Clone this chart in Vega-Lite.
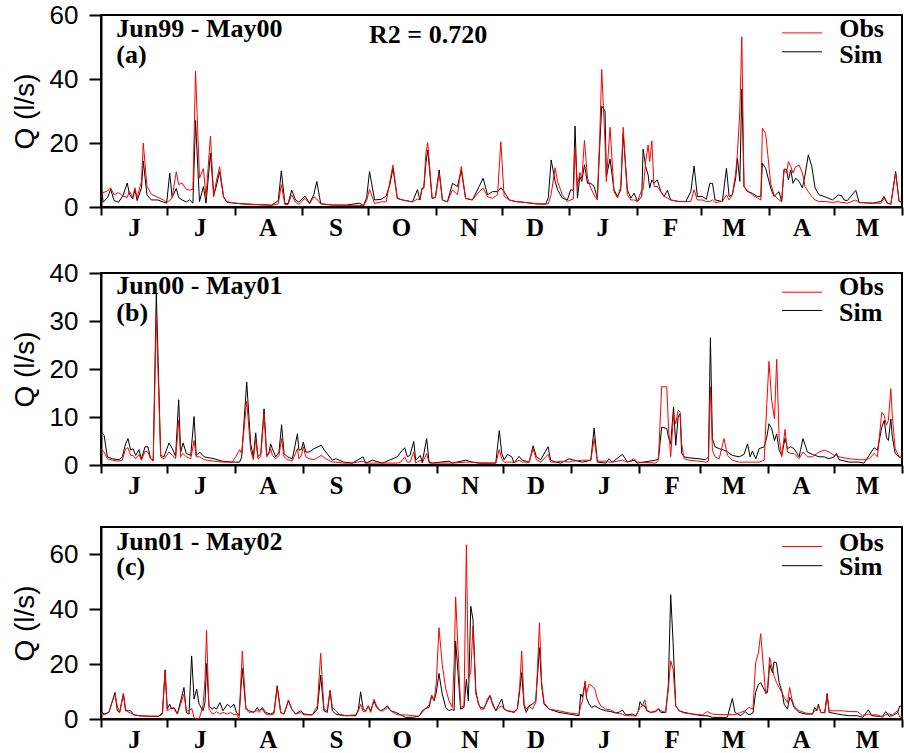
{
"$schema":"https://vega.github.io/schema/vega-lite/v6.json",
"background":"white",
"padding":{"left":10,"top":1,"right":0,"bottom":0},
"datasets":{
"p1":[{"d":0,"o":3,"s":7},{"d":1,"o":4.5,"s":1.5},{"d":3,"o":5,"s":3},{"d":4.4,"o":6,"s":5.5},{"d":6,"o":3.8,"s":2},{"d":8,"o":4.5,"s":1.5},{"d":10,"o":3.5,"s":3.5},{"d":12,"o":3,"s":7.5},{"d":13,"o":5,"s":4},{"d":14.5,"o":3,"s":2.5},{"d":15.5,"o":6,"s":5.5},{"d":16.5,"o":3,"s":2},{"d":18.5,"o":8,"s":6},{"d":19.3,"o":20,"s":14.4},{"d":21,"o":6.5,"s":3.8},{"d":23,"o":4,"s":2.2},{"d":26,"o":3,"s":2.2},{"d":28.5,"o":2.2,"s":1.5},{"d":30,"o":1.5,"s":1.2},{"d":31.4,"o":2,"s":10.6},{"d":32.5,"o":3,"s":3},{"d":34.4,"o":11,"s":5.8},{"d":35.5,"o":7,"s":3},{"d":37,"o":7.5,"s":2.2},{"d":39,"o":5.5,"s":1.6},{"d":40.5,"o":5.3,"s":2.2},{"d":42,"o":5.5,"s":1.2},{"d":43.2,"o":42.5,"s":27},{"d":45,"o":9,"s":1.7},{"d":46.8,"o":12,"s":6.4},{"d":48,"o":3,"s":1.2},{"d":50,"o":22.2,"s":16.8},{"d":51.5,"o":3.2,"s":3.7},{"d":52.5,"o":7.4,"s":6},{"d":54.2,"o":12.6,"s":11},{"d":56,"o":3.2,"s":3.2},{"d":57.5,"o":1.7,"s":1.5},{"d":60,"o":1.3,"s":1.3},{"d":64,"o":1,"s":1},{"d":70,"o":0.8,"s":0.8},{"d":78,"o":0.5,"s":0.6},{"d":81,"o":1,"s":2},{"d":82.4,"o":7,"s":11.3},{"d":84,"o":0.8,"s":1.2},{"d":85.5,"o":0.8,"s":1},{"d":87.1,"o":3.8,"s":5.3},{"d":88.9,"o":1.5,"s":2.2},{"d":90.4,"o":0.8,"s":1.5},{"d":93.2,"o":2.7,"s":3.4},{"d":95.3,"o":1,"s":1.2},{"d":97.3,"o":3.2,"s":4},{"d":98.6,"o":2.5,"s":8},{"d":100.4,"o":1,"s":1},{"d":105.8,"o":0.6,"s":0.6},{"d":112,"o":0.5,"s":0.6},{"d":118,"o":0.5,"s":1.2},{"d":120,"o":0.4,"s":0.5},{"d":121.4,"o":2,"s":3},{"d":122.7,"o":5.5,"s":11.1},{"d":125,"o":1.1,"s":2.2},{"d":128,"o":1.6,"s":2.4},{"d":130.3,"o":1.6,"s":3.4},{"d":132,"o":8,"s":7},{"d":133.4,"o":13.1,"s":12.1},{"d":135.4,"o":2.7,"s":2.7},{"d":137.7,"o":2.2,"s":2.2},{"d":142.3,"o":1.6,"s":1.6},{"d":144.6,"o":2.5,"s":5.4},{"d":145.7,"o":2.2,"s":2.2},{"d":146.6,"o":5.3,"s":5.8},{"d":147.5,"o":6,"s":6},{"d":148.5,"o":17,"s":14},{"d":149.3,"o":20.1,"s":17.8},{"d":151.3,"o":2.7,"s":2.7},{"d":152.8,"o":3,"s":3},{"d":154.5,"o":10.6,"s":11.6},{"d":156,"o":2.2,"s":2.2},{"d":158.3,"o":1.6,"s":1.6},{"d":160.6,"o":5.4,"s":7.4},{"d":162.9,"o":3.8,"s":6.4},{"d":164.6,"o":12.6,"s":11.6},{"d":166.6,"o":2.7,"s":2.7},{"d":169.7,"o":2.2,"s":2.2},{"d":172.8,"o":4.8,"s":6.4},{"d":174.6,"o":5.9,"s":9},{"d":176.6,"o":3.2,"s":3.8},{"d":178.9,"o":2.7,"s":4.8},{"d":181.2,"o":3.8,"s":4.8},{"d":182.7,"o":20.4,"s":6},{"d":184.2,"o":3.3,"s":4.8},{"d":186.5,"o":2.2,"s":2.2},{"d":189.5,"o":1.7,"s":1.7},{"d":194.1,"o":1.4,"s":1.4},{"d":198.7,"o":1,"s":1},{"d":203.2,"o":0.9,"s":0.9},{"d":204.4,"o":1,"s":3},{"d":205.7,"o":4,"s":14.7},{"d":207.5,"o":12.3,"s":8},{"d":208.6,"o":8,"s":5.4},{"d":210.8,"o":3.8,"s":2.8},{"d":213.1,"o":1.7,"s":2.2},{"d":214.6,"o":2.2,"s":5.4},{"d":215.8,"o":2.5,"s":5.2},{"d":216.6,"o":18.5,"s":25.3},{"d":217.7,"o":6.4,"s":2.8},{"d":218.8,"o":10.8,"s":9.5},{"d":219.7,"o":9,"s":8},{"d":220.9,"o":20.8,"s":13.2},{"d":222.3,"o":9,"s":7.4},{"d":223.8,"o":5.9,"s":7.4},{"d":225.3,"o":3.8,"s":6.4},{"d":226.8,"o":2.2,"s":2.8},{"d":227.8,"o":20,"s":18},{"d":228.8,"o":43,"s":31.5},{"d":230.3,"o":20,"s":30},{"d":230.9,"o":7.9,"s":9.5},{"d":232.6,"o":24.9,"s":15},{"d":234.4,"o":4.8,"s":5.4},{"d":236,"o":2.8,"s":3.3},{"d":237.5,"o":6.4,"s":5.4},{"d":238.6,"o":24.9,"s":23},{"d":240.5,"o":3.8,"s":5.4},{"d":242.1,"o":2.2,"s":2.8},{"d":243.6,"o":2.2,"s":4.3},{"d":245.1,"o":1.7,"s":1.7},{"d":247.1,"o":5.4,"s":3.3},{"d":247.7,"o":5.4,"s":18.1},{"d":248.9,"o":14.2,"s":12.6},{"d":250,"o":19.4,"s":10},{"d":250.7,"o":14.2,"s":5.9},{"d":251.7,"o":20.7,"s":8.5},{"d":252.7,"o":6.4,"s":7.4},{"d":254.2,"o":6.4,"s":8.5},{"d":255.8,"o":4.8,"s":4.8},{"d":257.3,"o":3.3,"s":3.3},{"d":258.8,"o":2.8,"s":5.2},{"d":260.3,"o":2.2,"s":2.2},{"d":264.1,"o":1.7,"s":1.7},{"d":267.2,"o":1.7,"s":1.7},{"d":269.5,"o":1.7,"s":4.8},{"d":271,"o":5.4,"s":12.8},{"d":272.5,"o":2.2,"s":3.3},{"d":274.8,"o":2.2,"s":3.3},{"d":276.6,"o":1.7,"s":2.4},{"d":278.2,"o":1.7,"s":7.4},{"d":279.4,"o":2.2,"s":7.4},{"d":280.6,"o":1.4,"s":2.2},{"d":283.9,"o":1.7,"s":1.7},{"d":285.8,"o":3.8,"s":12.1},{"d":287,"o":2.2,"s":3.3},{"d":288.5,"o":3.8,"s":3.8},{"d":290,"o":10.6,"s":9},{"d":290.8,"o":16.8,"s":15.2},{"d":291.9,"o":30,"s":8},{"d":292.8,"o":53.2,"s":36.8},{"d":293.8,"o":6.4,"s":6.4},{"d":295.4,"o":5.2,"s":4.8},{"d":297.6,"o":3.8,"s":4.3},{"d":299.9,"o":2.8,"s":3.3},{"d":301.5,"o":2.2,"s":3.3},{"d":302.2,"o":24.6,"s":13.7},{"d":303.7,"o":23,"s":12.1},{"d":306,"o":7.4,"s":5.9},{"d":307.5,"o":3.8,"s":3.3},{"d":309.8,"o":2.2,"s":4.8},{"d":311,"o":1.7,"s":1.7},{"d":312.1,"o":11.6,"s":11.8},{"d":313.2,"o":10.6,"s":11.8},{"d":314.1,"o":14.2,"s":8.5},{"d":315.2,"o":12.6,"s":11.6},{"d":316.2,"o":10.6,"s":7.4},{"d":317.4,"o":12.6,"s":9},{"d":319,"o":13.1,"s":8},{"d":320.5,"o":10.6,"s":5.9},{"d":321.7,"o":6.4,"s":10},{"d":323.2,"o":4.8,"s":16.3},{"d":324.8,"o":3.3,"s":12.6},{"d":326.3,"o":2.2,"s":5.9},{"d":328.1,"o":1.7,"s":3.8},{"d":331.2,"o":1.7,"s":3.1},{"d":334.2,"o":1.4,"s":2.2},{"d":336.9,"o":1.7,"s":3.8},{"d":338.5,"o":1.4,"s":3.5},{"d":339.5,"o":1.4,"s":2.2},{"d":341,"o":1.2,"s":2},{"d":344.9,"o":2.2,"s":5.2},{"d":346.4,"o":1.4,"s":1.4},{"d":352.5,"o":1.2,"s":1.2},{"d":356.3,"o":1.2,"s":1.7},{"d":357.8,"o":2.8,"s":3.3},{"d":359.3,"o":1.2,"s":1.2},{"d":360.9,"o":0.9,"s":0.9},{"d":363.1,"o":10.6,"s":11.1},{"d":364.7,"o":1.7,"s":1.7},{"d":366,"o":1.5,"s":1.5}],
"p2":[{"d":0,"o":3.4,"s":7},{"d":1.4,"o":2.7,"s":6.2},{"d":2.9,"o":1.3,"s":1.7},{"d":5.2,"o":1,"s":1.3},{"d":8.2,"o":0.8,"s":1.1},{"d":9.7,"o":1,"s":1.7},{"d":11.2,"o":3.4,"s":4.4},{"d":12.3,"o":3.6,"s":5.5},{"d":13.5,"o":2,"s":3.1},{"d":14.6,"o":2,"s":3.4},{"d":15.8,"o":1.3,"s":2},{"d":17.3,"o":2.2,"s":3.2},{"d":18.4,"o":1,"s":1.3},{"d":20.1,"o":2.9,"s":3.8},{"d":21.4,"o":2.7,"s":3.8},{"d":22.6,"o":1.3,"s":1.3},{"d":23.8,"o":0.8,"s":1},{"d":25.2,"o":31.4,"s":35.7},{"d":27.2,"o":1.7,"s":2},{"d":28.7,"o":1.3,"s":1.7},{"d":31,"o":2.7,"s":4.6},{"d":32.5,"o":2,"s":3.4},{"d":34,"o":1.3,"s":1.8},{"d":35.4,"o":9.3,"s":13.6},{"d":36.3,"o":1.7,"s":2.7},{"d":37.4,"o":2.4,"s":4.6},{"d":38.9,"o":1.7,"s":2.4},{"d":40.9,"o":1.3,"s":2},{"d":42.4,"o":5.1,"s":10.1},{"d":43.4,"o":1.7,"s":2},{"d":45,"o":1.7,"s":2.7},{"d":47,"o":1.1,"s":1.7},{"d":51.5,"o":0.8,"s":1.3},{"d":55.3,"o":0.6,"s":0.8},{"d":59.8,"o":0.6,"s":0.6},{"d":61.4,"o":1.7,"s":0.6},{"d":63.2,"o":3.2,"s":0.6},{"d":64.1,"o":2.4,"s":1.7},{"d":66.4,"o":13.3,"s":17.3},{"d":68.2,"o":3.1,"s":4.4},{"d":69.4,"o":1.1,"s":1.7},{"d":70.5,"o":5.5,"s":6.7},{"d":71.5,"o":1.3,"s":1.7},{"d":72.8,"o":1.7,"s":2.4},{"d":74.3,"o":10.7,"s":11.7},{"d":75.5,"o":1.7,"s":2},{"d":76.6,"o":2.4,"s":2.7},{"d":77.3,"o":3.4,"s":4.4},{"d":78.1,"o":2,"s":3.4},{"d":79.6,"o":1.3,"s":1.7},{"d":81.1,"o":2,"s":2.7},{"d":82.3,"o":5.5,"s":8.4},{"d":83.4,"o":1.7,"s":2.4},{"d":84.9,"o":1.1,"s":1.7},{"d":87.2,"o":0.9,"s":1.3},{"d":89.5,"o":3.4,"s":6.5},{"d":90.2,"o":1.3,"s":3.1},{"d":91.3,"o":2,"s":3.2},{"d":92.2,"o":3.8,"s":4.8},{"d":93.3,"o":1.7,"s":2.7},{"d":94.8,"o":1.3,"s":2.7},{"d":97.1,"o":1.1,"s":3.4},{"d":100.4,"o":2,"s":4.1},{"d":102.4,"o":1.3,"s":2.7},{"d":105.4,"o":0.6,"s":1},{"d":107,"o":0.6,"s":1.3},{"d":110.7,"o":0.4,"s":0.6},{"d":114.5,"o":0.4,"s":0.4},{"d":119.4,"o":0.8,"s":1.7},{"d":120.6,"o":0.4,"s":0.4},{"d":123.6,"o":0.4,"s":1},{"d":128.2,"o":0.4,"s":0.4},{"d":135,"o":0.4,"s":1.7},{"d":136.6,"o":0.6,"s":2.7},{"d":138.4,"o":1.7,"s":3.6},{"d":139.6,"o":0.6,"s":1.7},{"d":140.8,"o":0.6,"s":2},{"d":142.5,"o":2.7,"s":4.9},{"d":143.4,"o":0.4,"s":1},{"d":145.5,"o":1,"s":2},{"d":146.4,"o":0.4,"s":0.6},{"d":148.4,"o":2.4,"s":5.5},{"d":149.5,"o":0.4,"s":0.6},{"d":151,"o":0.4,"s":0.4},{"d":158.6,"o":0.4,"s":0.8},{"d":160.1,"o":0.4,"s":0.4},{"d":166.2,"o":0.6,"s":1},{"d":169.2,"o":0.6,"s":0.6},{"d":172.3,"o":0.4,"s":0.4},{"d":179.9,"o":0.4,"s":0.4},{"d":181.5,"o":3.2,"s":7.2},{"d":182.6,"o":1.3,"s":2.4},{"d":183.7,"o":0.6,"s":1.1},{"d":185.2,"o":0.6,"s":2.2},{"d":187.2,"o":0.6,"s":1.7},{"d":188.2,"o":0.5,"s":0.4},{"d":190.5,"o":1,"s":1.8},{"d":192,"o":0.6,"s":1},{"d":195.1,"o":0.6,"s":0.6},{"d":196.9,"o":3.4,"s":4},{"d":198.4,"o":1.1,"s":1.7},{"d":200.4,"o":0.6,"s":1.1},{"d":203.7,"o":2.2,"s":3.8},{"d":204.9,"o":0.6,"s":1},{"d":207.2,"o":0.6,"s":0.6},{"d":209.5,"o":0.8,"s":0.4},{"d":213.3,"o":0.6,"s":1.3},{"d":214.8,"o":0.8,"s":1.1},{"d":219.4,"o":1,"s":0.6},{"d":223.2,"o":1,"s":1},{"d":224.7,"o":5.5,"s":7.7},{"d":226.2,"o":0.8,"s":0.6},{"d":230,"o":0.8,"s":0.4},{"d":231.5,"o":0.6,"s":1.3},{"d":233,"o":0.6,"s":0.6},{"d":237.6,"o":1,"s":2.2},{"d":239.9,"o":0.6,"s":0.6},{"d":242.9,"o":1.3,"s":1},{"d":244.4,"o":0.6,"s":0.4},{"d":252.8,"o":0.4,"s":1},{"d":254,"o":1,"s":1.3},{"d":255.5,"o":16.3,"s":7.9},{"d":257.8,"o":16.3,"s":7.6},{"d":258.6,"o":8,"s":5.8},{"d":259.6,"o":1.7,"s":4.4},{"d":260.9,"o":10.7,"s":12.1},{"d":261.9,"o":8.6,"s":4.1},{"d":263,"o":11.4,"s":10},{"d":263.9,"o":11,"s":10.7},{"d":264.6,"o":4.4,"s":2.4},{"d":265.7,"o":1.3,"s":1.7},{"d":268,"o":1,"s":1.5},{"d":272.5,"o":0.8,"s":1.3},{"d":275.6,"o":0.6,"s":1.1},{"d":276.8,"o":0.8,"s":1.7},{"d":277.7,"o":16.3,"s":26.5},{"d":278.6,"o":3.1,"s":5.5},{"d":279.8,"o":1.7,"s":3.8},{"d":281.7,"o":1.3,"s":3.4},{"d":283.9,"o":5.5,"s":3.1},{"d":285.5,"o":2,"s":2.7},{"d":287.7,"o":1,"s":2},{"d":290.8,"o":0.6,"s":1.7},{"d":293,"o":0.6,"s":2.2},{"d":294.6,"o":0.6,"s":4.4},{"d":295.8,"o":0.6,"s":1.7},{"d":296.8,"o":0.6,"s":2.9},{"d":298.4,"o":0.6,"s":1.3},{"d":299.9,"o":0.6,"s":3.4},{"d":302.2,"o":1,"s":3.8},{"d":303.4,"o":12.8,"s":5.8},{"d":304.4,"o":21.6,"s":8.6},{"d":305.6,"o":13.5,"s":7.6},{"d":306.9,"o":9.6,"s":5.1},{"d":307.9,"o":22,"s":6.5},{"d":309,"o":5.8,"s":3.1},{"d":310.2,"o":1.7,"s":2},{"d":311.7,"o":7.4,"s":5.6},{"d":312.8,"o":2.7,"s":3.4},{"d":314.3,"o":2.4,"s":3.8},{"d":315.8,"o":2.4,"s":3.4},{"d":318.1,"o":1.3,"s":1.7},{"d":319.9,"o":2.7,"s":5.5},{"d":321.9,"o":1.7,"s":2.7},{"d":324.2,"o":1.7,"s":2.2},{"d":327.2,"o":2.7,"s":1.7},{"d":329.5,"o":3.1,"s":1.7},{"d":331.8,"o":2.7,"s":1.3},{"d":334.1,"o":2,"s":1.7},{"d":335.1,"o":2,"s":2.4},{"d":336.3,"o":1.7,"s":1.1},{"d":340.9,"o":1.3,"s":0.6},{"d":345.5,"o":1.1,"s":0.6},{"d":347.7,"o":1.1,"s":0.4},{"d":350,"o":1.3,"s":2},{"d":352.3,"o":2.4,"s":3.6},{"d":353.8,"o":1.7,"s":3.1},{"d":355.8,"o":11,"s":7.9},{"d":356.9,"o":10.3,"s":9.3},{"d":357.9,"o":8.3,"s":5.8},{"d":358.8,"o":9.3,"s":5.1},{"d":359.9,"o":15.9,"s":9.6},{"d":360.6,"o":10,"s":5.8},{"d":361.9,"o":3.4,"s":2.4},{"d":363.7,"o":1.7,"s":1.7},{"d":365,"o":1.5,"s":1.5}],
"p3":[{"d":0,"o":2.4,"s":3},{"d":1.4,"o":1.5,"s":1.8},{"d":3.6,"o":2.4,"s":2.4},{"d":5.2,"o":6.6,"s":6.6},{"d":6.4,"o":9.1,"s":9.7},{"d":7.4,"o":4.8,"s":3},{"d":8.5,"o":2.4,"s":2.4},{"d":10.2,"o":9.4,"s":9.1},{"d":11.2,"o":3.6,"s":3},{"d":12.5,"o":2.4,"s":3},{"d":13.5,"o":2.2,"s":3},{"d":15,"o":1.5,"s":1.5},{"d":17.3,"o":1.2,"s":1.2},{"d":21.9,"o":1,"s":1},{"d":26.4,"o":1,"s":1},{"d":28,"o":1.8,"s":2.4},{"d":29.2,"o":17.5,"s":17.9},{"d":30.2,"o":3,"s":3.6},{"d":31.3,"o":3.6,"s":5.4},{"d":32.2,"o":4.2,"s":3.6},{"d":33.3,"o":3.6,"s":4.2},{"d":34.8,"o":1.8,"s":1.8},{"d":36.3,"o":5.4,"s":6.6},{"d":37.8,"o":9.1,"s":11.5},{"d":38.9,"o":3,"s":2.4},{"d":40.1,"o":3,"s":1.8},{"d":41.3,"o":3.9,"s":23},{"d":42.4,"o":0.5,"s":7.3},{"d":43.6,"o":0,"s":10.9},{"d":44.7,"o":0,"s":5.4},{"d":46.5,"o":4.8,"s":3},{"d":47.4,"o":14.5,"s":6},{"d":48.1,"o":32.3,"s":20.2},{"d":49.2,"o":3.6,"s":4.8},{"d":50.7,"o":1.8,"s":3.6},{"d":51.5,"o":2,"s":4.2},{"d":52.6,"o":2.7,"s":3.6},{"d":54.2,"o":1.8,"s":6},{"d":55.6,"o":2.4,"s":3},{"d":57.6,"o":1.8,"s":5.4},{"d":59.1,"o":2.4,"s":4.2},{"d":60.6,"o":1.5,"s":5.4},{"d":61.7,"o":1.8,"s":2.4},{"d":62.9,"o":0,"s":1.2},{"d":64.4,"o":24.8,"s":18.4},{"d":66,"o":3.6,"s":4.2},{"d":67.4,"o":2.4,"s":3},{"d":69.7,"o":2.7,"s":2.4},{"d":71.2,"o":3,"s":4.2},{"d":72,"o":2.4,"s":3},{"d":73.5,"o":3.6,"s":4.2},{"d":75,"o":1.8,"s":2.4},{"d":77.3,"o":1.5,"s":1.8},{"d":78.8,"o":1.8,"s":2.4},{"d":80.3,"o":11.5,"s":12.1},{"d":81.9,"o":2.2,"s":2.4},{"d":83.4,"o":1.8,"s":1.8},{"d":85.4,"o":7,"s":6.6},{"d":86.9,"o":3.6,"s":3.6},{"d":88.7,"o":1.8,"s":1.8},{"d":91,"o":2.4,"s":3},{"d":92.5,"o":1.5,"s":1.8},{"d":96.3,"o":1.5,"s":1.5},{"d":98.6,"o":4.8,"s":3.6},{"d":100.1,"o":24,"s":16},{"d":101.6,"o":3.6,"s":3},{"d":103.1,"o":3,"s":2.4},{"d":104.4,"o":10.5,"s":10.3},{"d":105.4,"o":4.2,"s":3},{"d":107,"o":3,"s":1.8},{"d":108.5,"o":1.8,"s":1.5},{"d":111.5,"o":1.2,"s":1.2},{"d":116.1,"o":1.5,"s":1.2},{"d":117.3,"o":3,"s":3.6},{"d":118.3,"o":5.4,"s":9.9},{"d":119.5,"o":2.7,"s":3.6},{"d":120.6,"o":2.7,"s":3},{"d":121.8,"o":4.8,"s":4.8},{"d":122.9,"o":2.4,"s":3},{"d":124.4,"o":7.2,"s":6.6},{"d":125.6,"o":4.8,"s":4.2},{"d":127.4,"o":3,"s":3},{"d":128.7,"o":3,"s":3.6},{"d":130.5,"o":4.2,"s":4.8},{"d":132,"o":3,"s":3},{"d":134.3,"o":1.8,"s":2.4},{"d":135.8,"o":1.5,"s":1.8},{"d":138.8,"o":1.5,"s":0.6},{"d":141.9,"o":1.2,"s":0.6},{"d":144.9,"o":1,"s":1},{"d":146.4,"o":2.4,"s":3},{"d":148,"o":3.9,"s":3.9},{"d":149.5,"o":5.1,"s":4.2},{"d":150.7,"o":8.7,"s":8.5},{"d":151.8,"o":6.6,"s":6.6},{"d":152.8,"o":13.3,"s":9.7},{"d":154,"o":33.3,"s":16.6},{"d":155.5,"o":19.9,"s":9.1},{"d":157.1,"o":10.9,"s":4.2},{"d":158.6,"o":6.6,"s":3},{"d":160.1,"o":4.2,"s":3.6},{"d":160.9,"o":20,"s":3},{"d":161.6,"o":44.5,"s":28.4},{"d":163.9,"o":4.2,"s":3.6},{"d":165.4,"o":4.8,"s":4.2},{"d":166.5,"o":63.5,"s":14.5},{"d":167.4,"o":14.5,"s":6.6},{"d":168.5,"o":17,"s":41.1},{"d":169.5,"o":33.9,"s":36.3},{"d":170.8,"o":9.1,"s":10.3},{"d":172,"o":6,"s":5.4},{"d":173,"o":3.6,"s":4.2},{"d":174.5,"o":3.6,"s":3.9},{"d":176.1,"o":7.3,"s":6.6},{"d":177.3,"o":8.7,"s":8.5},{"d":178.3,"o":5.4,"s":6},{"d":179.9,"o":3,"s":3},{"d":181.4,"o":4.2,"s":5.4},{"d":182.6,"o":4.8,"s":7.3},{"d":183.7,"o":3.6,"s":3.6},{"d":185.2,"o":3,"s":3},{"d":188.2,"o":2.7,"s":2.4},{"d":189.7,"o":3.6,"s":3.6},{"d":190.8,"o":12.1,"s":10.3},{"d":191.7,"o":24.8,"s":16.9},{"d":192.8,"o":5.4,"s":4.8},{"d":193.8,"o":3.6,"s":2.4},{"d":195,"o":4.8,"s":4.8},{"d":196.6,"o":3.6,"s":5.4},{"d":198.1,"o":6,"s":6.6},{"d":198.9,"o":18.2,"s":15.7},{"d":199.8,"o":35.1,"s":26},{"d":200.8,"o":13.3,"s":12.1},{"d":201.9,"o":6,"s":5.4},{"d":204.2,"o":3.6,"s":3.6},{"d":208.7,"o":3,"s":2.4},{"d":213.3,"o":2.2,"s":1.8},{"d":217.8,"o":1.8,"s":1.2},{"d":218.6,"o":4.8,"s":9.1},{"d":219.4,"o":6.6,"s":7.9},{"d":220.6,"o":13.9,"s":13.3},{"d":221.2,"o":9.1,"s":7.9},{"d":222.4,"o":12.7,"s":5.4},{"d":223.6,"o":12.1,"s":4.2},{"d":225,"o":10.9,"s":4.8},{"d":226.2,"o":7.3,"s":4.2},{"d":227.7,"o":4.8,"s":3.6},{"d":230,"o":3.6,"s":3},{"d":232.3,"o":3.3,"s":2.7},{"d":234.6,"o":2.2,"s":2.2},{"d":236.1,"o":2,"s":2.5},{"d":237.6,"o":1.8,"s":3.3},{"d":239.1,"o":1.2,"s":1.5},{"d":242.1,"o":1.2,"s":1.8},{"d":243.7,"o":1,"s":1.2},{"d":244.9,"o":3,"s":3},{"d":245.6,"o":4.2,"s":6.3},{"d":246.7,"o":4.8,"s":4.8},{"d":247.8,"o":7,"s":4.8},{"d":248.7,"o":3.3,"s":3},{"d":250.5,"o":2.4,"s":2.4},{"d":252.8,"o":3,"s":2.7},{"d":254,"o":3.9,"s":3.6},{"d":255.1,"o":3,"s":2.4},{"d":257.3,"o":2.4,"s":2.4},{"d":258.5,"o":10.9,"s":12.1},{"d":259.6,"o":21.2,"s":45.3},{"d":260.7,"o":18.2,"s":27.8},{"d":261.9,"o":4.8,"s":4.8},{"d":263.4,"o":3,"s":3},{"d":265.7,"o":2.2,"s":2.4},{"d":269.5,"o":1.8,"s":1.8},{"d":274,"o":1.5,"s":1.2},{"d":276.3,"o":2.7,"s":1.2},{"d":278.6,"o":1.8,"s":0.6},{"d":281.6,"o":1.6,"s":0.6},{"d":285.4,"o":1.6,"s":0.6},{"d":287.7,"o":1.6,"s":7.5},{"d":288.9,"o":1.6,"s":2.4},{"d":291.5,"o":2.4,"s":1.2},{"d":293.5,"o":3,"s":2.7},{"d":295.3,"o":4.2,"s":1.5},{"d":297.1,"o":3.6,"s":2.2},{"d":298.3,"o":20.5,"s":9.7},{"d":299.6,"o":24.2,"s":12.7},{"d":300.6,"o":31.1,"s":13.3},{"d":301.7,"o":20.5,"s":11.5},{"d":302.9,"o":9.1,"s":9.7},{"d":303.7,"o":10.9,"s":9.7},{"d":304.7,"o":22.4,"s":19.9},{"d":306,"o":18.2,"s":16.9},{"d":306.7,"o":15.7,"s":20.8},{"d":307.8,"o":13.3,"s":20.5},{"d":309,"o":11.5,"s":13.3},{"d":310.2,"o":9.7,"s":10.3},{"d":311.3,"o":7.9,"s":5.4},{"d":312.8,"o":6,"s":3.6},{"d":313.8,"o":11.5,"s":7.9},{"d":314.8,"o":7.3,"s":6.6},{"d":315.8,"o":4.8,"s":4.2},{"d":318.1,"o":3,"s":2.4},{"d":321.1,"o":2.2,"s":1.8},{"d":324.2,"o":1.8,"s":1.8},{"d":325.2,"o":3,"s":4.2},{"d":326.2,"o":3.6,"s":3},{"d":326.9,"o":4.8,"s":5.4},{"d":328,"o":2.4,"s":2.4},{"d":329.8,"o":2.2,"s":2.4},{"d":330.9,"o":8.5,"s":9.3},{"d":331.8,"o":3,"s":2.4},{"d":333.3,"o":3,"s":2.2},{"d":335.6,"o":3,"s":1.8},{"d":337.8,"o":3,"s":1.5},{"d":340.9,"o":2.7,"s":1.2},{"d":344.7,"o":2.7,"s":1.2},{"d":347,"o":1.2,"s":0.6},{"d":349.7,"o":1.8,"s":3.3},{"d":351.2,"o":1.5,"s":1.2},{"d":353.8,"o":1.5,"s":1},{"d":356.1,"o":0.6,"s":1},{"d":357.6,"o":1.8,"s":2.7},{"d":359.1,"o":1.8,"s":1},{"d":360.6,"o":1.5,"s":1.2},{"d":362.9,"o":3,"s":2.2},{"d":364,"o":0.6,"s":4.8},{"d":365,"o":1,"s":4.5}]
},
"vconcat":[
{"spacing":18,"vconcat":[
{"width":801,"height":192,"layer":[
{"data":{"name":"p1"},"mark":{"type":"line","color":"#000000","strokeWidth":1},"encoding":{"x":{"field":"d","type":"quantitative","title":null,"scale":{"domain":[0,366],"nice":false,"zero":false},"axis":{"values":[0,30,61,92,122,153,183,214,245,274,305,335,366],"labelExpr":"['J','J','A','S','O','N','D','J','F','M','A','M',''][indexof([0,30,61,92,122,153,183,214,245,274,305,335,366],datum.value)]"}},"y":{"field":"s","type":"quantitative","title":"Q (l/s)","scale":{"domain":[0,60],"nice":false},"axis":{"values":[0,20,40,60]}}}},
{"data":{"name":"p1"},"mark":{"type":"line","color":"#ff0000","strokeWidth":1},"encoding":{"x":{"field":"d","type":"quantitative","title":null},"y":{"field":"o","type":"quantitative","title":"Q (l/s)"}}},
{"data":{"values":[{}]},"mark":{"type":"text","text":"Jun99 - May00","align":"left","baseline":"alphabetic","font":"Liberation Serif","fontWeight":"bold","fontSize":26,"color":"#000"},"encoding":{"x":{"datum":7,"type":"quantitative"},"y":{"datum":53,"type":"quantitative"}}},
{"data":{"values":[{}]},"mark":{"type":"text","text":"(a)","align":"left","baseline":"alphabetic","font":"Liberation Serif","fontWeight":"bold","fontSize":26,"color":"#000"},"encoding":{"x":{"datum":7,"type":"quantitative"},"y":{"datum":45.1,"type":"quantitative"}}},
{"data":{"values":[{}]},"mark":{"type":"text","text":"R2 = 0.720","align":"left","baseline":"alphabetic","font":"Liberation Serif","fontWeight":"bold","fontSize":26,"color":"#000"},"encoding":{"x":{"datum":122.5,"type":"quantitative"},"y":{"datum":51.2,"type":"quantitative"}}},
{"data":{"values":[{}]},"mark":{"type":"rule","color":"#ff0000","strokeWidth":1},"encoding":{"x":{"datum":311.2,"type":"quantitative"},"x2":{"datum":329.5},"y":{"datum":54.4,"type":"quantitative"}}},
{"data":{"values":[{}]},"mark":{"type":"rule","color":"#000000","strokeWidth":1},"encoding":{"x":{"datum":311.2,"type":"quantitative"},"x2":{"datum":329.5},"y":{"datum":48.5,"type":"quantitative"}}},
{"data":{"values":[{}]},"mark":{"type":"text","text":"Obs","align":"left","baseline":"alphabetic","font":"Liberation Serif","fontWeight":"bold","fontSize":26,"color":"#000"},"encoding":{"x":{"datum":337.3,"type":"quantitative"},"y":{"datum":53.2,"type":"quantitative"}}},
{"data":{"values":[{}]},"mark":{"type":"text","text":"Sim","align":"left","baseline":"alphabetic","font":"Liberation Serif","fontWeight":"bold","fontSize":26,"color":"#000"},"encoding":{"x":{"datum":337.3,"type":"quantitative"},"y":{"datum":45.1,"type":"quantitative"}}}
]},
{"width":801,"height":192,"layer":[
{"data":{"name":"p2"},"mark":{"type":"line","color":"#000000","strokeWidth":1},"encoding":{"x":{"field":"d","type":"quantitative","title":null,"scale":{"domain":[0,365],"nice":false,"zero":false},"axis":{"values":[0,30,61,92,122,153,183,214,245,273,304,334,365],"labelExpr":"['J','J','A','S','O','N','D','J','F','M','A','M',''][indexof([0,30,61,92,122,153,183,214,245,273,304,334,365],datum.value)]"}},"y":{"field":"s","type":"quantitative","title":"Q (l/s)","scale":{"domain":[0,40],"nice":false},"axis":{"values":[0,10,20,30,40]}}}},
{"data":{"name":"p2"},"mark":{"type":"line","color":"#ff0000","strokeWidth":1},"encoding":{"x":{"field":"d","type":"quantitative","title":null},"y":{"field":"o","type":"quantitative","title":"Q (l/s)"}}},
{"data":{"values":[{}]},"mark":{"type":"text","text":"Jun00 - May01","align":"left","baseline":"alphabetic","font":"Liberation Serif","fontWeight":"bold","fontSize":26,"color":"#000"},"encoding":{"x":{"datum":7,"type":"quantitative"},"y":{"datum":35.6,"type":"quantitative"}}},
{"data":{"values":[{}]},"mark":{"type":"text","text":"(b)","align":"left","baseline":"alphabetic","font":"Liberation Serif","fontWeight":"bold","fontSize":26,"color":"#000"},"encoding":{"x":{"datum":7,"type":"quantitative"},"y":{"datum":30.1,"type":"quantitative"}}},
{"data":{"values":[{}]},"mark":{"type":"rule","color":"#ff0000","strokeWidth":1},"encoding":{"x":{"datum":310.3,"type":"quantitative"},"x2":{"datum":328.6},"y":{"datum":36,"type":"quantitative"}}},
{"data":{"values":[{}]},"mark":{"type":"rule","color":"#000000","strokeWidth":1},"encoding":{"x":{"datum":310.3,"type":"quantitative"},"x2":{"datum":328.6},"y":{"datum":32.2,"type":"quantitative"}}},
{"data":{"values":[{}]},"mark":{"type":"text","text":"Obs","align":"left","baseline":"alphabetic","font":"Liberation Serif","fontWeight":"bold","fontSize":26,"color":"#000"},"encoding":{"x":{"datum":336.3,"type":"quantitative"},"y":{"datum":35.35,"type":"quantitative"}}},
{"data":{"values":[{}]},"mark":{"type":"text","text":"Sim","align":"left","baseline":"alphabetic","font":"Liberation Serif","fontWeight":"bold","fontSize":26,"color":"#000"},"encoding":{"x":{"datum":336.3,"type":"quantitative"},"y":{"datum":30,"type":"quantitative"}}}
]}
]},
{"width":801,"height":192,"layer":[
{"data":{"name":"p3"},"mark":{"type":"line","color":"#000000","strokeWidth":1},"encoding":{"x":{"field":"d","type":"quantitative","title":null,"scale":{"domain":[0,365],"nice":false,"zero":false},"axis":{"values":[0,30,61,92,122,153,183,214,245,273,304,334,365],"labelExpr":"['J','J','A','S','O','N','D','J','F','M','A','M',''][indexof([0,30,61,92,122,153,183,214,245,273,304,334,365],datum.value)]"}},"y":{"field":"s","type":"quantitative","title":"Q (l/s)","scale":{"domain":[0,70],"nice":false},"axis":{"values":[0,20,40,60]}}}},
{"data":{"name":"p3"},"mark":{"type":"line","color":"#ff0000","strokeWidth":1},"encoding":{"x":{"field":"d","type":"quantitative","title":null},"y":{"field":"o","type":"quantitative","title":"Q (l/s)"}}},
{"data":{"values":[{}]},"mark":{"type":"text","text":"Jun01 - May02","align":"left","baseline":"alphabetic","font":"Liberation Serif","fontWeight":"bold","fontSize":26,"color":"#000"},"encoding":{"x":{"datum":7,"type":"quantitative"},"y":{"datum":61.7,"type":"quantitative"}}},
{"data":{"values":[{}]},"mark":{"type":"text","text":"(c)","align":"left","baseline":"alphabetic","font":"Liberation Serif","fontWeight":"bold","fontSize":26,"color":"#000"},"encoding":{"x":{"datum":7,"type":"quantitative"},"y":{"datum":52.6,"type":"quantitative"}}},
{"data":{"values":[{}]},"mark":{"type":"rule","color":"#ff0000","strokeWidth":1},"encoding":{"x":{"datum":310.3,"type":"quantitative"},"x2":{"datum":328.6},"y":{"datum":62.9,"type":"quantitative"}}},
{"data":{"values":[{}]},"mark":{"type":"rule","color":"#000000","strokeWidth":1},"encoding":{"x":{"datum":310.3,"type":"quantitative"},"x2":{"datum":328.6},"y":{"datum":55.9,"type":"quantitative"}}},
{"data":{"values":[{}]},"mark":{"type":"text","text":"Obs","align":"left","baseline":"alphabetic","font":"Liberation Serif","fontWeight":"bold","fontSize":26,"color":"#000"},"encoding":{"x":{"datum":336.3,"type":"quantitative"},"y":{"datum":61.4,"type":"quantitative"}}},
{"data":{"values":[{}]},"mark":{"type":"text","text":"Sim","align":"left","baseline":"alphabetic","font":"Liberation Serif","fontWeight":"bold","fontSize":26,"color":"#000"},"encoding":{"x":{"datum":336.3,"type":"quantitative"},"y":{"datum":52.6,"type":"quantitative"}}}
]}
],
"spacing":27,
"config":{
"view":{"stroke":"#000000","strokeWidth":2},
"axis":{"grid":false,"domainColor":"#000000","domainWidth":2,"tickColor":"#000000","tickWidth":2,"labelColor":"#000000","titleColor":"#000000"},
"axisX":{"tickSize":8,"labelFont":"Liberation Serif","labelFontWeight":"bold","labelFontSize":25,"labelPadding":0,"labelOffset":33,"labelFlush":false,"labelOverlap":false,"labelBound":false},
"axisY":{"tickSize":12,"labelFont":"Liberation Sans","labelFontSize":26,"labelPadding":11,"titleFont":"Liberation Sans","titleFontSize":28,"titleFontWeight":"normal","titlePadding":10}
}
}
